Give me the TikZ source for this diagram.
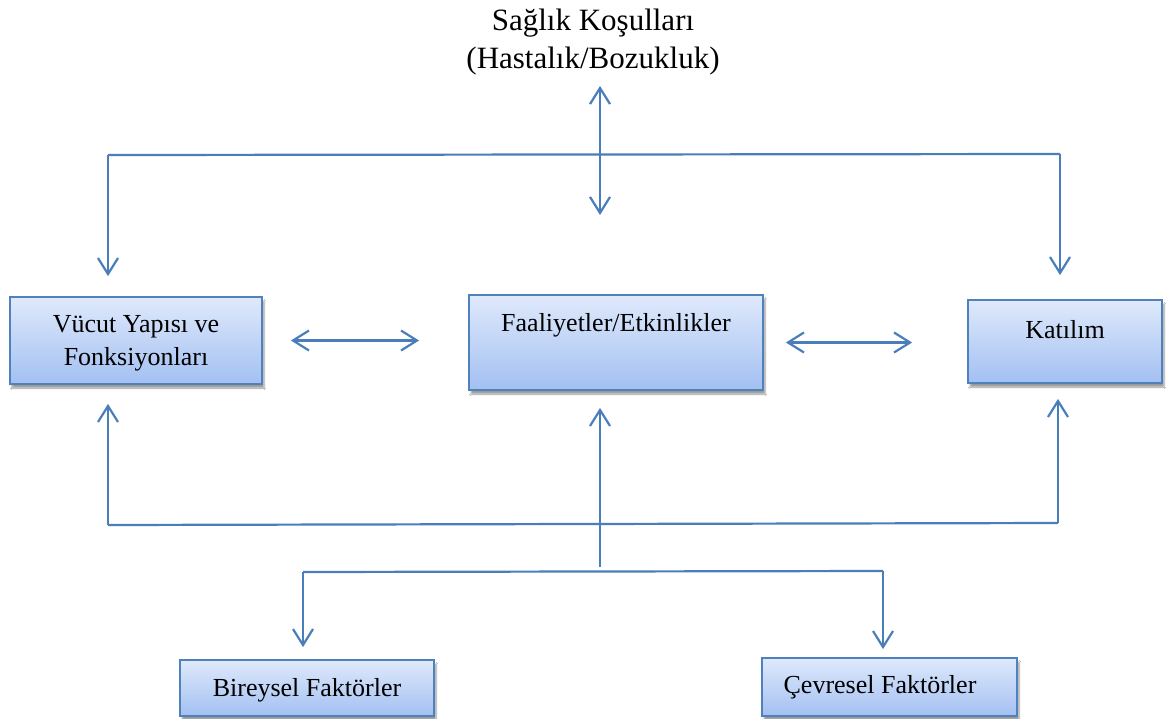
\documentclass[tikz,border=0pt]{standalone}
\usepackage{fontspec}
\setmainfont{Liberation Serif}
\usetikzlibrary{arrows.meta,shadows,shadows.blur}
\definecolor{linec}{HTML}{4A7EBB}
\definecolor{boxline}{HTML}{4F81BD}
\definecolor{boxtop}{HTML}{DFE9FB}
\definecolor{boxbot}{HTML}{A3C0F2}
\tikzset{
  box/.style={draw=boxline, line width=1.8pt, top color=boxtop, bottom color=boxbot,
    blur shadow={shadow xshift=2pt, shadow yshift=-4pt, shadow opacity=40, shadow blur steps=6}, inner sep=0pt},
  lbl/.style={font=\fontsize{26}{33}\selectfont, align=center, inner sep=0pt, text=black},
  conn/.style={draw=linec, line width=2.2pt},
  tip/.style={},
  arr/.style={conn, -{Straight Barb[length=16pt,width=20pt,line width=2.2pt]}},
  darr/.style={conn, {Straight Barb[length=16pt,width=20pt,line width=2.2pt]}-{Straight Barb[length=16pt,width=20pt,line width=2.2pt]}}
}
\begin{document}
\begin{tikzpicture}[x=1pt,y=-1pt]
\useasboundingbox (0,0) rectangle (1168,718);
\fill[white] (0,0) rectangle (1168,718);
% title
\node[font=\fontsize{31}{38}\selectfont, align=center, inner sep=0pt] (title) at (593,42) {Sağlık Koşulları\\(Hastalık/Bozukluk)};
% boxes
\node[box, minimum width=252pt, minimum height=87pt] (vyf) at (136,340.5) {};
\node[lbl] (vyft) at (136,343) {Vücut Yapısı ve\\Fonksiyonları};
\node[box, minimum width=294pt, minimum height=95pt] (fa) at (616,342.5) {};
\node[lbl] (fat) at (616,325) {Faaliyetler/Etkinlikler};
\node[box, minimum width=194pt, minimum height=83pt] (kat) at (1065,341.5) {};
\node[lbl] (katt) at (1065,330) {Katılım};
\node[box, minimum width=254pt, minimum height=56pt] (bir) at (307,688) {};
\node[lbl] (birt) at (307,690) {Bireysel Faktörler};
\node[box, minimum width=255pt, minimum height=58pt] (cev) at (889.5,687) {};
\node[lbl] (cevt) at (880,687) {Çevresel Faktörler};
% coordinates
\coordinate (ha) at (600,86);
\coordinate (hb) at (600,215);
\coordinate (tl) at (108,155);
\coordinate (tr) at (1060,154);
\coordinate (bl) at (108,525);
\coordinate (br) at (1058,523);
\coordinate (cu) at (600,567);
\coordinate (ll) at (303,572);
\coordinate (lr) at (883,571);
% top
\draw[darr] (ha) -- (hb);
\draw[conn] (tl) -- (tr);
\draw[arr] (tl) -- ([yshift=20pt]vyf.north -| tl);
\draw[arr] (tr) -- ([yshift=24pt]kat.north -| tr);
% middle double arrows
\draw[darr] ([xshift=28pt]vyf.east) -- ([xshift=-49pt]fa.west |- vyf.east);
\draw[darr] ([xshift=22pt]fa.east) -- ([xshift=-55pt]kat.west |- fa.east);
% bottom
\draw[conn] (bl) -- (br);
\draw[arr] (bl) -- ([yshift=-19pt]vyf.south -| bl);
\draw[arr] (br) -- ([yshift=-15pt]kat.south -| br);
\draw[arr] (cu) -- ([yshift=-17pt]fa.south -| cu);
\draw[conn] (ll) -- (lr);
\draw[arr] (ll) -- ([yshift=12pt]bir.north -| ll);
\draw[arr] (lr) -- ([yshift=8pt]cev.north -| lr);
\end{tikzpicture}
\end{document}
